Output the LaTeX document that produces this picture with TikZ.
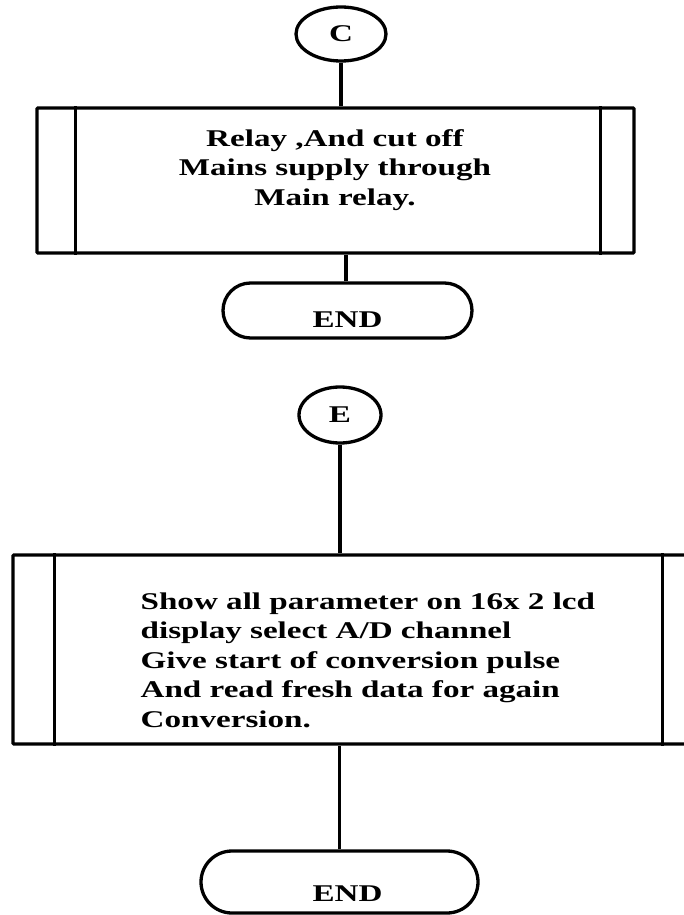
\documentclass[tikz,border=0pt]{standalone}
\usepackage{fontspec}
\setmainfont{Liberation Serif}[FakeStretch=1.38]
\usetikzlibrary{shapes.geometric,shapes.misc}
\tikzset{
  figfont/.style={font=\fontsize{24}{29.5}\selectfont\bfseries},
  ln/.style={line width=3.3pt},
  conn/.style={ellipse,draw,line width=3.3pt,inner sep=0pt,figfont},
  procbox/.style={rectangle,draw,line width=3.3pt,rounded corners=1pt,inner sep=0pt},
  term/.style={rounded rectangle,draw,line width=3.3pt,inner sep=0pt},
  txt/.style={inner sep=0pt,figfont}
}
\begin{document}
\begin{tikzpicture}[x=1pt,y=-1pt,line width=3.3pt]
\useasboundingbox (0,0) rectangle (684,915);
\clip (0,0) rectangle (684,915);
% upper chart
\node[conn,minimum width=90pt,minimum height=54pt] (c) at (341,34) {C};
\node[procbox,minimum width=597pt,minimum height=145pt] (b1) at (335.5,180.5) {};
\draw[ln] ([xshift=40pt]b1.north west) -- ([xshift=40pt]b1.south west);
\draw[ln] ([xshift=-35pt]b1.north east) -- ([xshift=-35pt]b1.south east);
\node[txt,align=center] (t1) at (335,170) {Relay ,And cut off\\Mains supply through\\ Main relay.};
\node[term,minimum width=249pt,minimum height=55pt,label={[txt,yshift=-9pt]center:END}] (end1) at (347.5,310.5) {};
\draw[ln] (end1.north -| 346,0) coordinate (e1top) -- (e1top |- b1.south);
\draw[ln] (c.south) -- (c.south |- b1.north);
% lower chart
\node[conn,minimum width=82pt,minimum height=56pt] (e) at (340,415) {E};
\node[procbox,minimum width=691pt,minimum height=189pt] (b2) at (358.5,649.5) {};
\draw[ln] ([xshift=43pt]b2.north west) -- ([xshift=43pt]b2.south west);
\draw[ln] ([xshift=-43pt]b2.north east) -- ([xshift=-43pt]b2.south east);
\node[txt,align=left,anchor=west] (t2) at (139,660) {Show all parameter on 16x 2 lcd\\display select A/D channel\\Give start of conversion pulse\\And read fresh data for again\\Conversion.};
\node[term,minimum width=277pt,minimum height=62pt,label={[txt,xshift=8pt,yshift=-12pt]center:END}] (end2) at (339.5,882) {};
\draw[ln] (e.south) -- (e.south |- b2.north);
\draw[ln] (end2.north) -- (end2.north |- b2.south);
\end{tikzpicture}
\end{document}
